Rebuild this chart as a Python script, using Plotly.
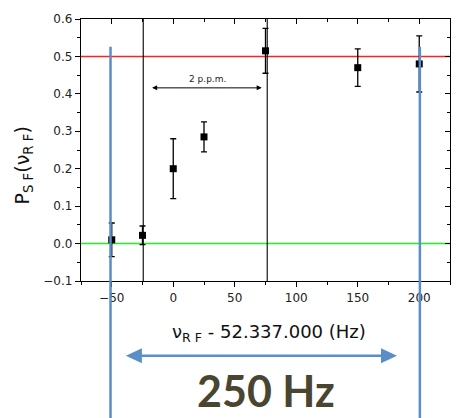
import plotly.graph_objects as go

# ---- data ----
freq = [-50, -25, 0, 25, 75, 150, 200]
p_sf = [0.010, 0.022, 0.200, 0.285, 0.515, 0.470, 0.480]
p_err = [0.045, 0.025, 0.080, 0.040, 0.060, 0.050, 0.075]
ref_levels = [0.5, 0.0]
ref_colors = ["#ff2020", "#22ee22"]
marker_lines = [-24.4, 76.4]
ppm_arrow = [-18.4, 71.9]
ppm_y = 0.416
span_lines = [-51.0, 200.5]
span_arrow = [-38.5, 181.9]
x_ticks = [-50, 0, 50, 100, 150, 200]
y_ticks = [-0.1, 0.0, 0.1, 0.2, 0.3, 0.4, 0.5, 0.6]
x_range = [-75, 225]
y_range = [-0.1, 0.6]

blue = "#5b8dc8"
tickfont = dict(family="DejaVu Sans", size=12, color="#222")

fig = go.Figure()
fig.add_trace(go.Scatter(
    x=freq, y=p_sf, mode="markers",
    marker=dict(symbol="square", size=7, color="black"),
    error_y=dict(type="data", array=p_err, color="black", thickness=1.3, width=3),
    showlegend=False, cliponaxis=False))
# invisible trace to anchor mirrored axes
fig.add_trace(go.Scatter(x=[x_range[0]], y=[y_range[0]], xaxis="x2", yaxis="y2",
                         mode="markers", marker=dict(opacity=0), showlegend=False,
                         hoverinfo="skip"))

shapes = []
for lv, c in zip(ref_levels, ref_colors):
    shapes.append(dict(type="line", xref="paper", yref="y", x0=0, x1=1, y0=lv, y1=lv,
                       line=dict(color=c, width=1.5), layer="below"))
for xv in marker_lines:
    shapes.append(dict(type="line", xref="x", yref="paper", x0=xv, x1=xv, y0=0, y1=1,
                       line=dict(color="black", width=1.1), layer="below"))

def to_paper(v):
    return (v - y_range[0]) / (y_range[1] - y_range[0])

for xv in span_lines:
    shapes.append(dict(type="line", xref="x", yref="paper", x0=xv, x1=xv,
                       y0=to_paper(0.526), y1=-0.6, line=dict(color=blue, width=2.5)))

arrow_y = -0.2857
px_per_unit = 369 / (x_range[1] - x_range[0])
shapes.append(dict(type="line", xref="x", yref="paper",
                   x0=span_arrow[0] + 14 / px_per_unit, x1=span_arrow[1] - 14 / px_per_unit,
                   y0=arrow_y, y1=arrow_y, line=dict(color=blue, width=2.5)))
shapes.append(dict(type="path", xref="x", yref="paper", xsizemode="pixel", ysizemode="pixel",
                   xanchor=span_arrow[0], yanchor=arrow_y,
                   path="M0,0 L16,7.5 L16,-7.5 Z", fillcolor=blue, line=dict(width=0)))
shapes.append(dict(type="path", xref="x", yref="paper", xsizemode="pixel", ysizemode="pixel",
                   xanchor=span_arrow[1], yanchor=arrow_y,
                   path="M0,0 L-16,7.5 L-16,-7.5 Z", fillcolor=blue, line=dict(width=0)))

annotations = [
    dict(x=ppm_arrow[1], y=ppm_y, ax=ppm_arrow[0], ay=ppm_y, xref="x", yref="y",
         axref="x", ayref="y", text="", showarrow=True, arrowhead=2, startarrowhead=2,
         arrowside="end+start", arrowsize=1, arrowwidth=1, arrowcolor="black"),
    dict(x=(ppm_arrow[0] + ppm_arrow[1]) / 2 + 1, y=ppm_y, xref="x", yref="y", yanchor="bottom",
         text="2 p.p.m.", showarrow=False, yshift=2,
         font=dict(family="DejaVu Sans", size=9, color="#222")),
    dict(x=0.51, y=-0.199, xref="paper", yref="paper", xanchor="center", yanchor="middle",
         text="ν<sub>R F</sub> - 52.337.000 (Hz)", showarrow=False,
         font=dict(family="DejaVu Sans", size=18, color="#111")),
    dict(x=-0.155, y=0.44, xref="paper", yref="paper", xanchor="center", yanchor="middle",
         textangle=-90,
         text="P<sub>S F</sub>(ν<sub>R F</sub>)", showarrow=False,
         font=dict(family="DejaVu Sans", size=19, color="#111")),
    dict(x=0.502, y=-0.417, xref="paper", yref="paper", xanchor="center", yanchor="middle",
         text="<b>250 Hz</b>", showarrow=False,
         font=dict(family="Lato", size=43, color="#4a4530", weight=700)),
]

fig.update_layout(
    width=463, height=418, margin=dict(l=81, r=13, t=15, b=137),
    paper_bgcolor="white", plot_bgcolor="white",
    shapes=shapes, annotations=annotations, showlegend=False,
    xaxis=dict(range=x_range, tickvals=x_ticks, ticks="outside", ticklen=5, tickwidth=1,
               tickcolor="black", showline=True, linecolor="black", linewidth=1.3,
               showgrid=False, zeroline=False, tickfont=tickfont,
               minor=dict(dtick=25, ticks="outside", ticklen=3, tickcolor="black")),
    yaxis=dict(range=y_range, tickvals=y_ticks, tickformat=".1f", ticks="outside", ticklen=5,
               tickwidth=1, tickcolor="black", showline=True, linecolor="black",
               linewidth=1.3, showgrid=False, zeroline=False, tickfont=tickfont,
               minor=dict(dtick=0.05, tick0=0, ticks="outside", ticklen=3, tickcolor="black")),
    xaxis2=dict(range=x_range, overlaying="x", side="top", anchor="y2", tickvals=x_ticks,
                ticks="inside", ticklen=5, tickcolor="black", showticklabels=False,
                showline=True, linecolor="black", linewidth=1.3, showgrid=False,
                zeroline=False,
                minor=dict(dtick=25, ticks="inside", ticklen=3, tickcolor="black")),
    yaxis2=dict(range=y_range, overlaying="y", side="right", anchor="x2", tickvals=y_ticks,
                ticks="inside", ticklen=5, tickcolor="black", showticklabels=False,
                showline=True, linecolor="black", linewidth=1.3, showgrid=False,
                zeroline=False,
                minor=dict(dtick=0.05, tick0=0, ticks="inside", ticklen=3, tickcolor="black")),
)

fig.write_html("out.html")
